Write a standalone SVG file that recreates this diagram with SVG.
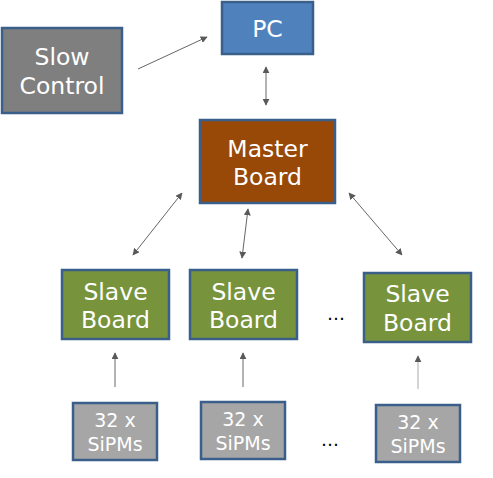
<svg xmlns="http://www.w3.org/2000/svg" width="493" height="478" viewBox="0 0 493 478">
<defs>
<marker id="ah" viewBox="0 0 10 10" refX="9" refY="5" markerWidth="7" markerHeight="7" orient="auto-start-reverse" markerUnits="userSpaceOnUse">
<path d="M0,0 L10,5 L0,10 z" fill="#595959"/>
</marker>
<style>
.box{stroke:#3a5f8b;stroke-width:2.5}
.t{font-family:"DejaVu Sans",sans-serif;fill:#fff;text-anchor:middle}
.big{font-size:23.5px}
.sm{font-size:19px}
.c{stroke:#666;stroke-width:1;fill:none;marker-end:url(#ah)}
.d{marker-start:url(#ah)}
.dots{font-family:"DejaVu Sans",sans-serif;font-size:18px;fill:#000;text-anchor:middle}
</style>
</defs>
<rect width="493" height="478" fill="#fff"/>
<g id="pc"><rect class="box" x="222" y="2" width="91" height="52" fill="#4f81bd"/><text class="t big" x="267.5" y="37">PC</text></g>
<g id="slow"><rect class="box" x="2" y="28" width="120" height="85" fill="#7f7f7f"/><text class="t big" x="62" y="65">Slow</text><text class="t big" x="62" y="94">Control</text></g>
<g id="master"><rect class="box" x="200" y="120" width="135" height="83" fill="#984807"/><text class="t big" x="267.5" y="157">Master</text><text class="t big" x="267.5" y="185">Board</text></g>
<g id="slave1"><rect class="box" x="62" y="270" width="107" height="69" fill="#77933c"/><text class="t big" x="115.5" y="300">Slave</text><text class="t big" x="115.5" y="328">Board</text></g>
<g id="slave2"><rect class="box" x="190" y="270" width="107" height="69" fill="#77933c"/><text class="t big" x="243.5" y="300">Slave</text><text class="t big" x="243.5" y="328">Board</text></g>
<g id="slave3"><rect class="box" x="364" y="273" width="107" height="69" fill="#77933c"/><text class="t big" x="417.5" y="302">Slave</text><text class="t big" x="417.5" y="331">Board</text></g>
<g id="sipm1"><rect class="box" x="73" y="403" width="84" height="57" fill="#a6a6a6"/><text class="t sm" x="115" y="427">32 x</text><text class="t sm" x="115" y="451">SiPMs</text></g>
<g id="sipm2"><rect class="box" x="201" y="402" width="84" height="57" fill="#a6a6a6"/><text class="t sm" x="243" y="426">32 x</text><text class="t sm" x="243" y="450">SiPMs</text></g>
<g id="sipm3"><rect class="box" x="376" y="405" width="84" height="57" fill="#a6a6a6"/><text class="t sm" x="418" y="429">32 x</text><text class="t sm" x="418" y="453">SiPMs</text></g>
<g id="dots"><text class="dots" x="336" y="320">…</text><text class="dots" x="330" y="446">…</text></g>
<g id="connectors">
<line class="c" x1="138" y1="69" x2="207" y2="37"/>
<line class="c d" x1="266" y1="67" x2="266" y2="105"/>
<line class="c d" x1="182" y1="193" x2="133" y2="255"/>
<line class="c d" x1="248" y1="209" x2="242" y2="258"/>
<line class="c d" x1="349" y1="193" x2="402" y2="255"/>
<line class="c" x1="115" y1="387" x2="115" y2="353"/>
<line class="c" x1="243" y1="387" x2="243" y2="353"/>
<line class="c" x1="418" y1="389" x2="418" y2="356" style="stroke:#aaa"/>
</g>
</svg>
